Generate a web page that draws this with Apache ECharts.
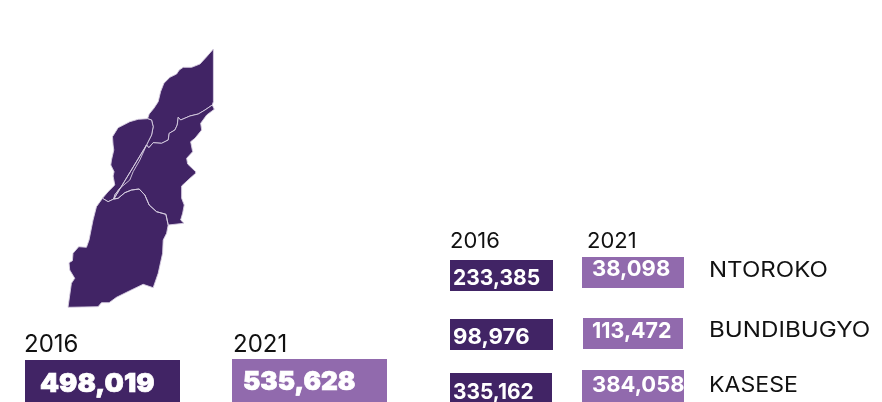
<!DOCTYPE html>
<html>
<head>
<meta charset="utf-8">
<script src="https://cdn.jsdelivr.net/npm/echarts@6/dist/echarts.min.js"></script>
<style>
  html, body { margin: 0; padding: 0; background: #fff; }
  #chart { width: 882px; height: 402px; }
</style>
</head>
<body>
<div id="chart"></div>
<script>
const years = ['2016', '2021'];
const districts = ['NTOROKO', 'BUNDIBUGYO', 'KASESE'];
const totals = [498019, 535628];
const values2016 = [233385, 98976, 335162];
const values2021 = [38098, 113472, 384058];

// map outlines, shared borders are kept apart so the polygons line up
const edgeNtorokoNorth = [[213.4,49],[206.7,56.7],[200,64],[191.7,67.3],[183.3,67.3],[179.3,70],[176.7,74],[170,77.3],[164,83.3],[160.7,91.7],[158.3,101.7],[154,108.3],[149.3,114],[147.7,118.7]];
const edgeNtorokoBundibugyo = [[147.7,118.7],[151.7,120],[153.3,126.7],[151.7,135],[148.3,141.7],[146.7,145]];
const edgeNtorokoKasese = [[146.7,145],[149,147.7],[153.3,142.7],[161.7,143.3],[168.3,140],[169.3,133.3],[175,130],[177.3,125],[178.3,117.3],[180.7,120],[190,116],[198.3,114],[205,110],[212.3,105]];
const edgeNtorokoEast = [[212.3,105],[213.4,101.7],[213.4,49]];
const edgeBundibugyoWest = [[147.7,118.7],[138.3,119.3],[130,121.7],[118.3,127.7],[112.7,136.7],[113.3,145],[114,150],[111.7,160],[111,165],[114.3,171.7],[113.3,176],[115,185],[108.3,191.7],[102.7,198.3]];
const edgeBundibugyoSouth = [[102.7,198.3],[108.3,201.7],[114,199]];
const edgeBundibugyoKasese = [[114,199],[115,195],[120,188.3],[130,180],[133.3,171.7],[140,160],[146.7,145]];
const edgeKasesePart = [[114,199],[118.3,198.3],[125,192.7],[131.7,190],[139.3,189],[145,195],[149.3,205],[156.7,211.7],[166,214.3],[168.3,225]];
const edgeKaseseEast = [[212.3,105],[214.3,109.3],[206.7,115],[200.7,123.3],[201.7,130],[195,138.3],[190.7,141.7],[192.7,151.7],[186.7,158.3],[187.7,164],[195.7,171.7],[195.7,173.3],[190,178.3],[181.7,186],[181.7,198.3],[184.3,205],[182.7,213.3],[180.7,220],[184,223.3],[168.3,225]];
const edgeKaseseSouth = [[168.3,225],[166.7,233.3],[163.3,240],[162.7,253.3],[158.3,273.3],[153.3,287.7],[143.3,284.3],[130,290.7],[116.7,297.3],[109.3,302.7],[101.7,302.7],[98.3,306.7],[68.3,307.3],[71.7,283.3],[75,278.3],[70,270],[69.3,262.7],[72.7,260.7],[73.3,253.3],[79,246.7],[86.7,247.3],[89.3,240],[93.3,220],[96.7,206.7],[102.7,198.3]];

const ring = (...edges) => {
  const pts = [].concat(...edges);
  pts.push(pts[0]);
  return pts;
};
const rev = (e) => e.slice().reverse();

const geoJson = {
  type: 'FeatureCollection',
  features: [
    { type: 'Feature', properties: { name: 'Ntoroko' }, geometry: { type: 'Polygon', coordinates: [ring(edgeNtorokoNorth, edgeNtorokoBundibugyo, edgeNtorokoKasese, edgeNtorokoEast)] } },
    { type: 'Feature', properties: { name: 'Bundibugyo' }, geometry: { type: 'Polygon', coordinates: [ring(edgeBundibugyoWest, edgeBundibugyoSouth, edgeBundibugyoKasese, rev(edgeNtorokoBundibugyo))] } },
    { type: 'Feature', properties: { name: 'Kasese' }, geometry: { type: 'MultiPolygon', coordinates: [
      [ring(rev(edgeBundibugyoKasese), edgeNtorokoKasese, edgeKaseseEast, rev(edgeKasesePart))],
      [ring(edgeKasesePart, edgeKaseseSouth, edgeBundibugyoSouth)]
    ] } }
  ]
};
echarts.registerMap('rwenzori', geoJson);

const dark = '#412465';
const light = '#916aad';
const bigFont = '900 26px Inter';
const smallFont = '700 22px Inter';
const yearBig = '400 24px Inter';
const yearSmall = '400 22px Inter';
const fmt = (v) => v.toLocaleString('en-US');

const graphic = [];
// sx squeezes the text sideways, Montserrat is not installed and Inter runs a bit different
function box(x, y, w, h, fill, text, tx, ty, font, sx, thick) {
  graphic.push({ type: 'rect', shape: { x, y, width: w, height: h }, style: { fill }, silent: true });
  graphic.push({
    type: 'text', x: tx, y: ty, scaleX: sx, silent: true,
    style: { text, fill: '#fff', font, textVerticalAlign: 'middle', stroke: thick ? '#fff' : null, lineWidth: thick || 0 }
  });
}
function label(text, x, y, font, sx) {
  graphic.push({ type: 'text', x, y, scaleX: sx || 1, silent: true, style: { text, fill: '#111', font, textVerticalAlign: 'middle' } });
}

// totals under the map
label(years[0], 24, 345, yearBig);
label(years[1], 233, 345, yearBig);
box(25, 360, 155, 42, dark, fmt(totals[0]), 40, 384, bigFont, 1.045, 0.7);
box(232, 359, 155, 43, light, fmt(totals[1]), 243, 382, bigFont, 1, 0.7);

// per district table
label(years[0], 450, 241, yearSmall);
label(years[1], 587, 241, yearSmall);
const rows2016 = [[450, 260, 103, 31, 453, 278, 0.955], [450, 319, 103, 31, 453, 337, 1.01], [450, 373, 102, 29, 453, 392, 0.95]];
const rows2021 = [[582, 257, 102, 31, 592, 269, 1], [583, 318, 100, 31, 592, 331, 0.975], [582, 370, 102, 32, 592, 385, 1]];
const labelY = [271, 331, 386];
const labelScale = [1.145, 1.15, 1.1];
districts.forEach((d, i) => {
  const a = rows2016[i], b = rows2021[i];
  box(a[0], a[1], a[2], a[3], dark, fmt(values2016[i]), a[4], a[5], smallFont, a[6]);
  box(b[0], b[1], b[2], b[3], light, fmt(values2021[i]), b[4], b[5], smallFont, b[6]);
  label(d, 709, labelY[i], '400 21px Inter', labelScale[i]);
});

const chart = echarts.init(document.getElementById('chart'), null, { renderer: 'canvas' });
chart.setOption({
  backgroundColor: '#ffffff',
  animation: false,
  graphic: { elements: graphic },
  series: [{
    type: 'map',
    map: 'rwenzori',
    projection: { project: (p) => p, unproject: (p) => p },
    aspectScale: 1,
    left: 68,
    top: 49,
    width: 146.3,
    height: 258.3,
    roam: false,
    silent: true,
    label: { show: false },
    itemStyle: { areaColor: dark, borderColor: '#d8cfe2', borderWidth: 0.9 },
    data: districts.map((d) => ({ name: d.charAt(0) + d.slice(1).toLowerCase() }))
  }]
});
</script>
</body>
</html>
